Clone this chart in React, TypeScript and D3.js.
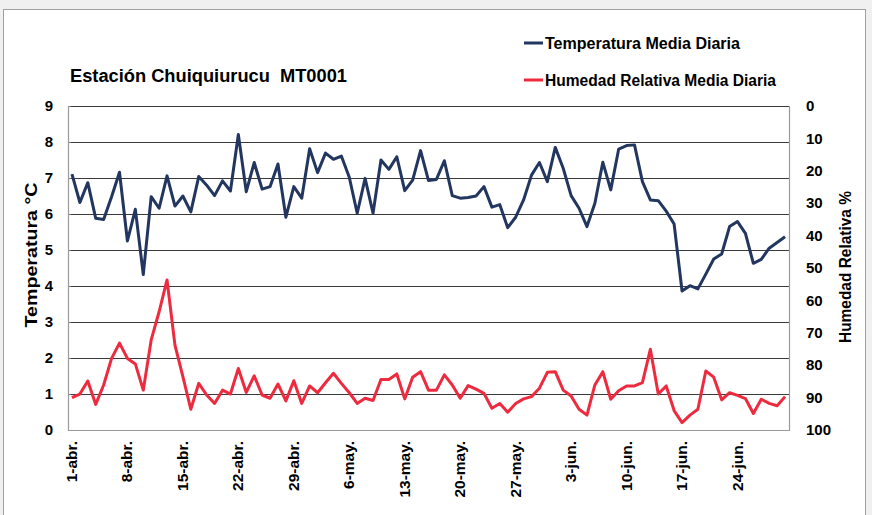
import React, { useEffect, useRef } from 'react';
import * as d3 from 'd3';

// daily series, 1-abr .. 30-jun (91 days)
const temperatura = [
  7.11, 6.32, 6.87, 5.88, 5.85, 6.48, 7.16, 5.25, 6.13, 4.32,
  6.48, 6.16, 7.06, 6.22, 6.5, 6.06, 7.04, 6.8, 6.51, 6.92,
  6.64, 8.21, 6.62, 7.43, 6.69, 6.76, 7.39, 5.91, 6.76, 6.44,
  7.81, 7.15, 7.69, 7.52, 7.61, 7.02, 6.02, 6.99, 6.02, 7.5,
  7.24, 7.59, 6.65, 6.94, 7.76, 6.93, 6.96, 7.48, 6.51, 6.44,
  6.46, 6.5, 6.76, 6.19, 6.26, 5.62, 5.91, 6.39, 7.08, 7.43,
  6.9, 7.85, 7.27, 6.51, 6.16, 5.65, 6.3, 7.44, 6.67, 7.8,
  7.9, 7.92, 6.9, 6.39, 6.37, 6.08, 5.72, 3.86, 4.01, 3.92,
  4.33, 4.75, 4.89, 5.65, 5.79, 5.46, 4.63, 4.74, 5.05, 5.21,
  5.37,
];

const humedad = [
  90.0, 88.9, 84.9, 92.1, 86.1, 77.9, 73.2, 77.9, 79.6, 87.7,
  72.2, 63.5, 53.7, 73.8, 83.5, 93.6, 85.6, 89.2, 91.8, 87.7,
  88.9, 81.0, 88.4, 83.3, 89.2, 90.2, 85.8, 91.0, 84.8, 91.8,
  86.4, 88.5, 85.4, 82.5, 85.6, 88.5, 91.8, 90.2, 90.9, 84.4,
  84.4, 82.7, 90.4, 83.7, 82.0, 87.7, 87.7, 83.0, 86.1, 90.2,
  86.3, 87.4, 88.7, 93.3, 91.8, 94.5, 91.8, 90.4, 89.7, 87.1,
  82.2, 82.0, 87.7, 89.5, 93.6, 95.4, 86.1, 82.0, 90.5, 87.9,
  86.4, 86.4, 85.4, 75.1, 88.9, 86.4, 94.0, 97.7, 95.4, 93.6,
  81.8, 83.7, 90.7, 88.5, 89.3, 90.3, 94.9, 90.5, 91.8, 92.5,
  89.7,
];

const tickLabels = [
  '1-abr.', '8-abr.', '15-abr.', '22-abr.', '29-abr.', '6-may.', '13-may.',
  '20-may.', '27-may.', '3-jun.', '10-jun.', '17-jun.', '24-jun.',
];

const tempTicks = [0, 1, 2, 3, 4, 5, 6, 7, 8, 9];
const humTicks = [0, 10, 20, 30, 40, 50, 60, 70, 80, 90, 100];

const W = 872;
const H = 515;
const FONT = "'Liberation Sans', Arial, sans-serif";

const Chart: React.FC = () => {
  const svgRef = useRef<SVGSVGElement>(null);

  useEffect(() => {
    if (!svgRef.current) return;
    const svg = d3.select(svgRef.current);
    svg.selectAll('*').remove();

    const plot = { left: 68, right: 789, top: 106, bottom: 430 };

    // background and chart frame
    svg.append('rect').attr('width', W).attr('height', H).attr('fill', '#f0f0f0');
    svg.append('rect')
      .attr('x', 3.5).attr('y', 9.5)
      .attr('width', 862).attr('height', 520)
      .attr('fill', '#fff').attr('stroke', '#a0a0a0');

    const days = d3.range(temperatura.length);
    const x = d3.scalePoint<number>()
      .domain(days)
      .range([plot.left, plot.right])
      .padding(0.5);
    const yT = d3.scaleLinear().domain([0, 9]).range([plot.bottom, plot.top]);
    const yH = d3.scaleLinear().domain([0, 100]).range([plot.top, plot.bottom]);

    // horizontal gridlines
    svg.append('g')
      .selectAll('line')
      .data(tempTicks.slice(1))
      .enter()
      .append('line')
      .attr('x1', plot.left).attr('x2', plot.right)
      .attr('y1', d => Math.round(yT(d)) + 0.5)
      .attr('y2', d => Math.round(yT(d)) + 0.5)
      .attr('stroke', '#3a3a3a').attr('stroke-width', 1);

    // small ticks on the left axis
    svg.append('g')
      .selectAll('line')
      .data(tempTicks)
      .enter()
      .append('line')
      .attr('x1', plot.left).attr('x2', plot.left + 3)
      .attr('y1', d => Math.round(yT(d)) + 0.5)
      .attr('y2', d => Math.round(yT(d)) + 0.5)
      .attr('stroke', '#777');

    // plot border (left, bottom, right)
    svg.append('path')
      .attr('d', `M${plot.left + 0.5},${plot.top}V${plot.bottom + 0.5}H${plot.right + 0.5}V${plot.top}`)
      .attr('fill', 'none').attr('stroke', '#9a9a9a').attr('stroke-width', 1.2);

    // left axis labels
    svg.append('g')
      .selectAll('text')
      .data(tempTicks)
      .enter()
      .append('text')
      .attr('x', 53).attr('y', d => yT(d))
      .attr('dy', '0.35em')
      .attr('text-anchor', 'end')
      .attr('font-family', FONT).attr('font-size', 15).attr('font-weight', 'bold')
      .attr('fill', '#000')
      .text(d => d);

    // right axis labels
    svg.append('g')
      .selectAll('text')
      .data(humTicks)
      .enter()
      .append('text')
      .attr('x', 806).attr('y', d => yH(d))
      .attr('dy', '0.35em')
      .attr('font-family', FONT).attr('font-size', 15).attr('font-weight', 'bold')
      .attr('fill', '#000')
      .text(d => d);

    // x labels, every 7 days
    svg.append('g')
      .selectAll('text')
      .data(tickLabels)
      .enter()
      .append('text')
      .attr('transform', (_, i) => `translate(${(x(i * 7) || 0) + 5},441) rotate(-90)`)
      .attr('text-anchor', 'end')
      .attr('font-family', FONT).attr('font-size', 15.5).attr('font-weight', 'bold')
      .attr('fill', '#000')
      .text(d => d);

    // lines
    const tempLine = d3.line<number>()
      .x((_, i) => x(i) || 0)
      .y(d => yT(d));
    const humLine = d3.line<number>()
      .x((_, i) => x(i) || 0)
      .y(d => yH(d));

    svg.append('path')
      .datum(humedad)
      .attr('d', humLine)
      .attr('fill', 'none')
      .attr('stroke', '#ee2a3e')
      .attr('stroke-width', 3)
      .attr('stroke-linejoin', 'round');

    svg.append('path')
      .datum(temperatura)
      .attr('d', tempLine)
      .attr('fill', 'none')
      .attr('stroke', '#22365f')
      .attr('stroke-width', 3)
      .attr('stroke-linejoin', 'round');

    // axis titles
    svg.append('text')
      .attr('transform', 'translate(37,255) rotate(-90)')
      .attr('text-anchor', 'middle')
      .attr('font-family', FONT).attr('font-size', 16.5).attr('font-weight', 'bold')
      .attr('textLength', 145).attr('lengthAdjust', 'spacingAndGlyphs')
      .text('Temperatura °C');

    svg.append('text')
      .attr('transform', 'translate(851,267) rotate(-90)')
      .attr('text-anchor', 'middle')
      .attr('font-family', FONT).attr('font-size', 16.5).attr('font-weight', 'bold')
      .attr('textLength', 152).attr('lengthAdjust', 'spacingAndGlyphs')
      .text('Humedad Relativa %');

    // title
    svg.append('text')
      .attr('x', 70).attr('y', 82)
      .attr('xml:space', 'preserve')
      .style('white-space', 'pre')
      .attr('font-family', FONT).attr('font-size', 18).attr('font-weight', 'bold')
      .attr('textLength', 277).attr('lengthAdjust', 'spacingAndGlyphs')
      .text('Estación Chuiquiurucu  MT0001');

    // legend
    const legend = [
      { label: 'Temperatura Media Diaria', color: '#22365f', y: 43, len: 195 },
      { label: 'Humedad Relativa Media Diaria', color: '#ee2a3e', y: 80, len: 231 },
    ];
    const lg = svg.append('g');
    legend.forEach(l => {
      lg.append('line')
        .attr('x1', 524).attr('x2', 543)
        .attr('y1', l.y).attr('y2', l.y)
        .attr('stroke', l.color).attr('stroke-width', 3);
      lg.append('text')
        .attr('x', 545).attr('y', l.y)
        .attr('dy', '0.35em')
        .attr('font-family', FONT).attr('font-size', 16).attr('font-weight', 'bold')
        .attr('textLength', l.len).attr('lengthAdjust', 'spacingAndGlyphs')
        .text(l.label);
    });
  }, []);

  return <svg ref={svgRef} width={W} height={H} style={{ display: 'block' }} />;
};

export default function App() {
  useEffect(() => {
    document.body.style.margin = '0';
  }, []);
  return <Chart />;
}
